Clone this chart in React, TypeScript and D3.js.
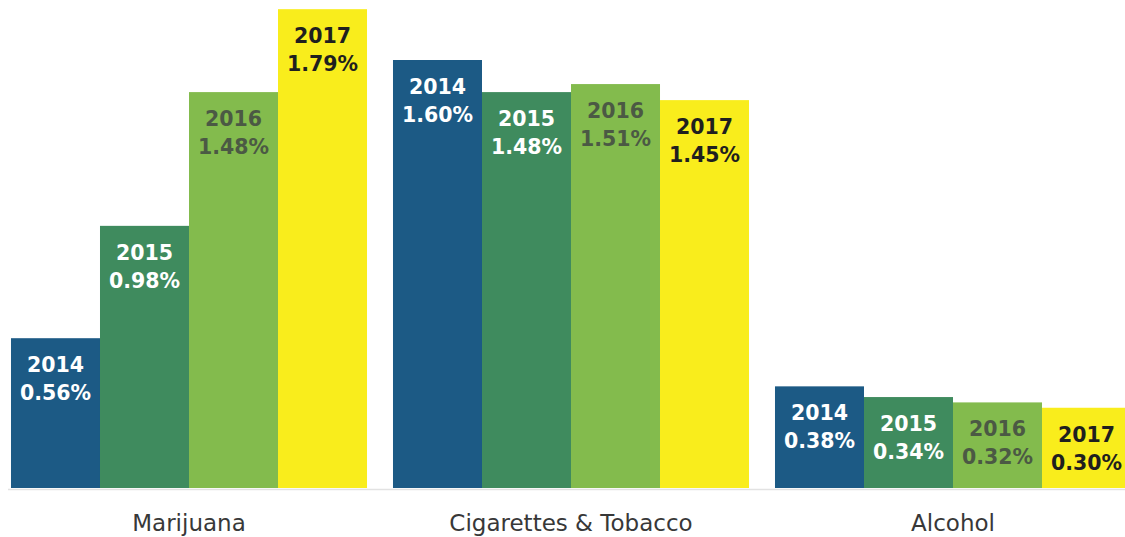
import React from "react";
import * as d3 from "d3";

const categories = ["Marijuana", "Cigarettes & Tobacco", "Alcohol"];
const years = ["2014", "2015", "2016", "2017"];
const values2014 = [0.56, 1.6, 0.38];
const values2015 = [0.98, 1.48, 0.34];
const values2016 = [1.48, 1.51, 0.32];
const values2017 = [1.79, 1.45, 0.3];
const seriesValues = [values2014, values2015, values2016, values2017];
const barColors = ["#1c5a85", "#3f8b5e", "#83bb4d", "#f9ed1c"];
const labelColors = ["#ffffff", "#ffffff", "#4b5944", "#1f1f1f"];

const W = 1125;
const H = 537;
const baseY = 488;

export default function App() {
  const x0 = d3
    .scaleBand<string>()
    .domain(categories)
    .range([-2, 1144])
    .paddingInner(0.068)
    .paddingOuter(0.034);
  const x1 = d3.scaleBand<string>().domain(years).range([0, x0.bandwidth()]).padding(0);
  const y = d3.scaleLinear().domain([0, 1.8]).range([baseY, baseY - 1.8 * 267.5]);

  return (
    <svg
      width={W}
      height={H}
      style={{ position: "absolute", left: 0, top: 0, background: "#fff" }}
      fontFamily="'DejaVu Sans', sans-serif"
    >
      <line x1={8} x2={W} y1={baseY + 1.5} y2={baseY + 1.5} stroke="#e2e2e2" strokeWidth={1.5} />
      {categories.map((cat, ci) => (
        <g key={cat} transform={`translate(${x0(cat)},0)`}>
          {years.map((yr, si) => {
            const v = seriesValues[si][ci];
            const bx = x1(yr)!;
            const bw = x1.bandwidth();
            const top = y(v);
            return (
              <g key={yr}>
                <rect x={bx} y={top} width={bw} height={baseY - top} fill={barColors[si]} />
                <text
                  x={bx + bw / 2}
                  y={top + 34}
                  textAnchor="middle"
                  fontSize={20.5}
                  fontWeight="bold"
                  fill={labelColors[si]}
                >
                  {yr}
                </text>
                <text
                  x={bx + bw / 2}
                  y={top + 62}
                  textAnchor="middle"
                  fontSize={20.5}
                  fontWeight="bold"
                  fill={labelColors[si]}
                >
                  {v.toFixed(2) + "%"}
                </text>
              </g>
            );
          })}
          <text
            x={x0.bandwidth() / 2}
            y={531}
            textAnchor="middle"
            fontSize={23}
            fill="#383838"
          >
            {cat}
          </text>
        </g>
      ))}
    </svg>
  );
}
